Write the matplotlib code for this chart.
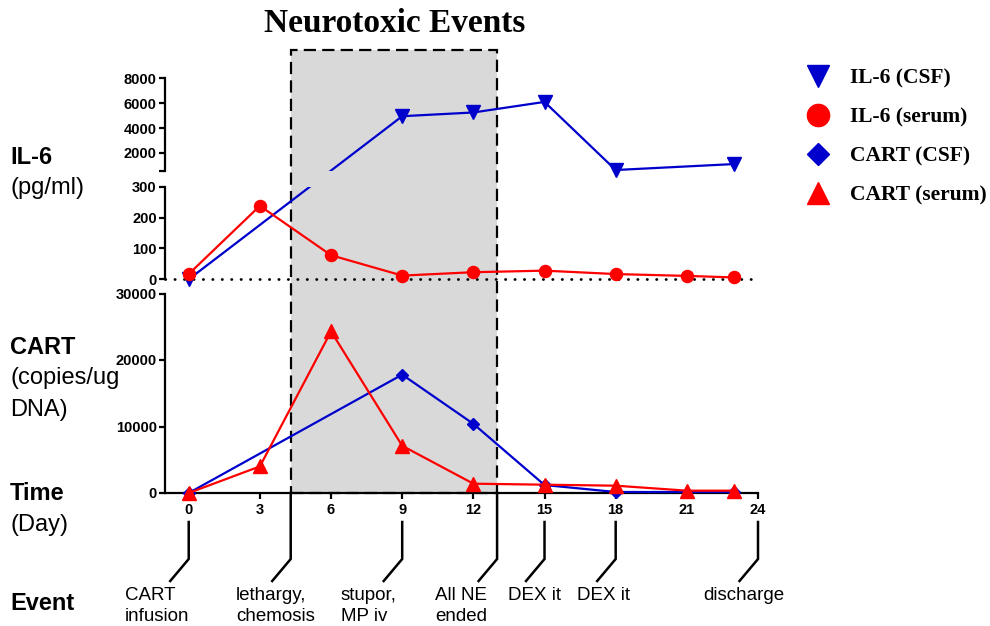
import numpy as np
import matplotlib
matplotlib.use('Agg')
import matplotlib.pyplot as plt
import matplotlib.transforms as mtransforms
from matplotlib.lines import Line2D
from matplotlib.patches import Rectangle

# IL-6 (pg/ml)
il6_csf_days = [0, 9, 12, 15, 18, 23]
il6_csf = [0, 4950, 5250, 6100, 620, 1100]
il6_serum_days = [0, 3, 6, 9, 12, 15, 18, 21, 23]
il6_serum = [17, 238, 78, 12, 23, 28, 17, 11, 6]

# CART (copies/ug DNA)
cart_csf_days = [0, 9, 12, 15, 18, 23]
cart_csf = [0, 17800, 10400, 1200, 150, 150]
cart_serum_days = [0, 3, 6, 9, 12, 15, 18, 21, 23]
cart_serum = [0, 4000, 24300, 7100, 1400, 1250, 1100, 350, 350]

# neurotoxic events window (days)
ne_start, ne_end = 4.3, 13

event_days = [0, 4.3, 9, 13, 15, 18, 24]
event_labels = ['CART\ninfusion', 'lethargy,\nchemosis', 'stupor,\nMP iv',
                'All NE\nended', 'DEX it', 'DEX it', 'discharge']

day_ticks = [0, 3, 6, 9, 12, 15, 18, 21, 24]
il6_hi_ticks = [500, 2000, 4000, 6000, 8000]
il6_hi_labels = ['', '2000', '4000', '6000', '8000']
il6_lo_ticks = [0, 100, 200, 300]
cart_ticks = [0, 10000, 20000, 30000]

series_names = ['IL-6 (CSF)', 'IL-6 (serum)', 'CART (CSF)', 'CART (serum)']

BLUE = '#0000CC'
RED = '#FF0000'
GREY = '#D9D9D9'

plt.rcParams['font.family'] = ['Liberation Sans', 'DejaVu Sans']

W, H = 990, 626
fig = plt.figure(figsize=(W / 100, H / 100), dpi=100)

# layout in pixels (from top)
L, R = 165, 758
hi_top, hi_bot = 78.3, 171.5
lo_top, lo_bot = 186.7, 279.3
cart_top, cart_bot = 293.5, 493.0


def box(top, bot):
    return [L / W, 1 - bot / H, (R - L) / W, (bot - top) / H]


# broken IL-6 axis: one piecewise scale shared by both halves
LO_MAX, HI_MIN = 300.0, 500.0
px_per_unit = (lo_bot - lo_top) / LO_MAX
GAP = (lo_top - hi_bot) / px_per_unit
K = (hi_bot - hi_top) / (8000 - HI_MIN) / px_per_unit


def fwd(v):
    v = np.asarray(v, dtype=float)
    return np.where(v <= LO_MAX, v,
                    np.where(v < HI_MIN, LO_MAX + (v - LO_MAX) * GAP / (HI_MIN - LO_MAX),
                             LO_MAX + GAP + (v - HI_MIN) * K))


def inv(t):
    t = np.asarray(t, dtype=float)
    return np.where(t <= LO_MAX, t,
                    np.where(t < LO_MAX + GAP, LO_MAX + (t - LO_MAX) * (HI_MIN - LO_MAX) / GAP,
                             HI_MIN + (t - LO_MAX - GAP) / K))


ax_hi = fig.add_axes(box(hi_top, hi_bot))
ax_lo = fig.add_axes(box(lo_top, lo_bot))
ax_cart = fig.add_axes(box(cart_top, cart_bot))

TICK_FS = 10.5
for ax in (ax_hi, ax_lo, ax_cart):
    ax.set_facecolor('none')
    ax.set_xlim(-1, 24)
    for s in ('top', 'right'):
        ax.spines[s].set_visible(False)
    ax.spines['left'].set_linewidth(1.6)
    ax.spines['bottom'].set_linewidth(1.6)
    ax.tick_params(axis='both', direction='out', length=4.5, width=1.6, labelsize=TICK_FS, pad=1.5)

for ax in (ax_hi, ax_lo):
    ax.set_yscale('function', functions=(fwd, inv))
    ax.spines['bottom'].set_visible(False)
    ax.set_xticks([])

ax_hi.set_ylim(HI_MIN, 8000)
ax_hi.set_yticks(il6_hi_ticks)
ax_hi.set_yticklabels(il6_hi_labels, fontweight='bold', fontsize=TICK_FS)
ax_lo.set_ylim(0, LO_MAX)
ax_lo.set_yticks(il6_lo_ticks)
ax_lo.set_yticklabels([str(t) for t in il6_lo_ticks], fontweight='bold', fontsize=TICK_FS)
ax_lo.minorticks_off()
ax_hi.minorticks_off()

ax_cart.set_ylim(0, 30000)
ax_cart.set_yticks(cart_ticks)
ax_cart.set_yticklabels([str(t) for t in cart_ticks], fontweight='bold', fontsize=TICK_FS)
ax_cart.set_xticks(day_ticks)
ax_cart.set_xticklabels([str(t) for t in day_ticks], fontweight='bold', fontsize=TICK_FS)
ax_cart.tick_params(axis='x', pad=3)

ax_lo.axhline(0, color='black', lw=2, ls=(0, (0.1, 3.3)), dash_capstyle='round',
              clip_on=False, zorder=1.5)

# IL-6 lines (clipped per half) and markers
il6_series = [(il6_csf_days, il6_csf, BLUE, 'v', 9.5),
              (il6_serum_days, il6_serum, RED, 'o', 8.7)]
for days, vals, col, mk, ms in il6_series:
    d = np.array(days)
    v = np.array(vals, dtype=float)
    lo = v <= LO_MAX
    for ax, m in ((ax_hi, ~lo), (ax_lo, lo)):
        ax.plot(d, v, color=col, lw=1.6, zorder=2)
        ax.plot(d[m], v[m], ls='none', marker=mk, ms=ms, color=col, mec=col,
                clip_on=False, zorder=3)

cart_series = [(cart_csf_days, cart_csf, BLUE, 'D', 6.2),
               (cart_serum_days, cart_serum, RED, '^', 9.5)]
for days, vals, col, mk, ms in cart_series:
    ax_cart.plot(days, vals, color=col, lw=1.6, marker=mk, ms=ms, mec=col,
                 clip_on=False, zorder=3)

# shaded neurotoxic window
trans = mtransforms.blended_transform_factory(ax_cart.transData, fig.transFigure)
rect = Rectangle((ne_start, 1 - cart_bot / H), ne_end - ne_start, (cart_bot - 50) / H,
                 transform=trans, facecolor=GREY, edgecolor='black', lw=1.6,
                 ls=(0, (5.5, 2.8)), zorder=-1)
fig.add_artist(rect)

# event markers below the time axis
ax_ev = fig.add_axes([L / W, 0, (R - L) / W, (H - cart_bot) / H])
ax_ev.set_xlim(-1, 24)
ax_ev.set_ylim(0, H - cart_bot)
ax_ev.axis('off')
text_offsets = [-2.69, -2.3, -2.58, -2.62, -1.54, -1.63, -2.32]
for d, lab, off in zip(event_days, event_labels, text_offsets):
    top = H - cart_bot if d in (ne_start, ne_end) else H - 522
    ax_ev.plot([d, d, d - 0.78], [top, H - 559, H - 581], color='black', lw=1.8,
               clip_on=False, solid_joinstyle='miter')
    y = 20 if '\n' in lab else 31
    ax_ev.text(d + off, y, lab, ha='left', va='center', fontsize=13.5, linespacing=1.3)

# left-hand labels
left_labels = [('IL-6', 'bold', 157), ('(pg/ml)', 'normal', 188),
               ('CART', 'bold', 347), ('(copies/ug', 'normal', 378), ('DNA)', 'normal', 410),
               ('Time', 'bold', 493), ('(Day)', 'normal', 525), ('Event', 'bold', 603)]
for txt, wt, y in left_labels:
    fig.text(10 / W, 1 - y / H, txt, ha='left', va='center', fontsize=17, fontweight=wt)

fig.text(395 / W, 1 - 23 / H, 'Neurotoxic Events', ha='center', va='center',
         fontsize=24, fontweight='bold', family=['Liberation Serif', 'DejaVu Serif'])

handles = [Line2D([], [], ls='none', marker='v', ms=16.5, color=BLUE),
           Line2D([], [], ls='none', marker='o', ms=16, color=RED),
           Line2D([], [], ls='none', marker='D', ms=11, color=BLUE),
           Line2D([], [], ls='none', marker='^', ms=16, color=RED)]
fig.legend(handles, series_names, loc='upper left', bbox_to_anchor=(807 / W, 1 - 68 / H),
           frameon=False, borderpad=0, borderaxespad=0, handlelength=1.0,
           handletextpad=1.0, labelspacing=0.88,
           prop={'family': ['Liberation Serif', 'DejaVu Serif'], 'weight': 'bold', 'size': 15.5})

fig.savefig('out.png', dpi=100)
